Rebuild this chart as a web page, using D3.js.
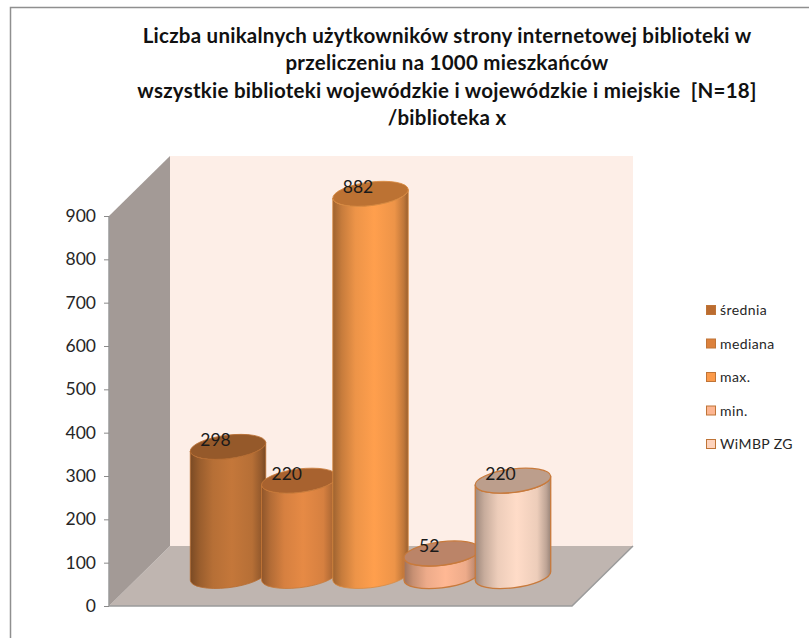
<!DOCTYPE html>
<html><head><meta charset="utf-8">
<script src="https://cdn.jsdelivr.net/npm/d3@7"></script>
<style>html,body{margin:0;padding:0;background:#fff}svg{display:block}</style>
</head><body><div id="c"></div>
<script>
const categories=["średnia","mediana","max.","min.","WiMBP ZG"];
const values=[298,220,882,52,220];
const labels=["298","220","882","52","220"];
const bodyColors=["#c4773a","#e68a45","#ff9f4d","#ffb894","#ffdcc8"];
const topColors=["#95592a","#a8622f","#bc7233","#bb8468","#bc9e8c"];
const legendColors=["#bb6c30","#dc813c","#fb9a4a","#fdb692","#fdd3bd"];
const strokeColors=["#b86c30","#c87a38","#d98a40","#c87a3c","#c87a3c"];
const yTicks=[0,100,200,300,400,500,600,700,800,900];
const titleLines=["Liczba unikalnych użytkowników strony internetowej biblioteki w","przeliczeniu na 1000 mieszkańców","wszystkie biblioteki wojewódzkie i wojewódzkie i miejskie  [N=18]","/biblioteka x"];

const W=809,H=638;
const FONT="Lato";
const svg=d3.select("#c").append("svg").attr("width",W).attr("height",H);
const defs=svg.append("defs");
const y=d3.scaleLinear().domain([0,900]).range([606,216]);
const x=d3.scaleBand().domain(categories).range([192.4,548.6]).padding(0);
const X0=109,X1=572,DX=61,DY=60;

svg.append("path").attr("d",`M10.5,${H}V7.5H${W}`).attr("fill","none").attr("stroke","#8f8f8f").attr("stroke-width",1.5);

// walls
const poly=(pts,fill,stroke)=>svg.append("polygon").attr("points",pts.map(p=>p.join(",")).join(" ")).attr("fill",fill).attr("stroke",stroke||"none");
poly([[X0+DX,y(900)-DY],[X1+DX,y(900)-DY],[X1+DX,y(0)-DY],[X0+DX,y(0)-DY]],"#fdeee7");
poly([[X0,y(0)],[X1,y(0)],[X1+DX,y(0)-DY],[X0+DX,y(0)-DY]],"#bfb5b0");
poly([[X0,y(900)],[X0+DX,y(900)-DY],[X0+DX,y(0)-DY],[X0,y(0)]],"#a39a96");
svg.append("path").attr("d",`M${X0},${y(900)}V${y(0)}H${X1}L${X1+DX},${y(0)-DY}`).attr("fill","none").attr("stroke","#9b9b9b").attr("stroke-width",1.5);

// axis
const axis=d3.axisLeft(y).tickValues(yTicks).tickSize(5).tickPadding(8);
const ag=svg.append("g").attr("transform",`translate(${X0},0)`).call(axis);
ag.select(".domain").remove();
ag.selectAll("line").attr("stroke","#8a8a8a");
ag.selectAll("text").attr("font-family",FONT).attr("font-size",17.5).attr("fill","#262626");

// cylinders
const rx=38,ry=11.7,rot=-7,t=rot*Math.PI/180;
const hx=Math.sqrt(rx*rx*Math.cos(t)**2+ry*ry*Math.sin(t)**2);
const dy=(rx*rx-ry*ry)*Math.sin(-t)*Math.cos(t)/hx;
categories.forEach((c,i)=>{
  const g=defs.append("linearGradient").attr("id","g"+i);
  const col=d3.color(bodyColors[i]);
  const mix=k=>d3.rgb(col.r*k,col.g*k,col.b*k).formatHex();
  [[0,.62],[.12,.78],[.3,.93],[.55,1],[.82,.93],[.94,.75],[1,.6]].forEach(s=>g.append("stop").attr("offset",s[0]).attr("stop-color",mix(s[1])));
});
const bars=svg.append("g").selectAll("g").data(categories).join("g");
bars.each(function(c,i){
  const cx=x(c)+x.bandwidth()/2, yTop=y(values[i])-DY/2, yBot=y(0)-DY/2;
  const s=d3.select(this);
  const lt=[cx-hx,yTop+dy], lb=[cx-hx,yBot+dy], rb=[cx+hx,yBot-dy], rt=[cx+hx,yTop-dy];
  s.append("path").attr("d",`M${lt}L${lb}A${rx},${ry} ${rot} 0 0 ${rb}L${rt}A${rx},${ry} ${rot} 0 1 ${lt}Z`)
    .attr("fill",`url(#g${i})`).attr("stroke",strokeColors[i]).attr("stroke-width",i>2?1.3:.8);
  s.append("ellipse").attr("cx",0).attr("cy",0).attr("rx",rx).attr("ry",ry)
    .attr("transform",`translate(${cx},${yTop}) rotate(${rot})`)
    .attr("fill",topColors[i]).attr("stroke",strokeColors[i]).attr("stroke-width",i>2?1.3:.8);
});
// data labels
svg.append("g").selectAll("text").data(categories).join("text")
  .attr("x",c=>x(c)+x.bandwidth()/2-12.5)
  .attr("y",(c,i)=>y(values[i])-DY/2-1)
  .attr("text-anchor","middle").attr("font-family",FONT).attr("font-size",17.5).attr("fill","#1a1a1a")
  .text((c,i)=>labels[i]);

// legend
const ly=d3.scalePoint().domain(categories).range([310,444]);
const leg=svg.append("g").selectAll("g").data(categories).join("g").attr("transform",c=>`translate(706,${ly(c)})`);
leg.append("rect").attr("x",.5).attr("y",-4.5).attr("width",9).attr("height",9).attr("fill",(c,i)=>legendColors[i]).attr("stroke","#bf7437").attr("stroke-width",1);
leg.append("text").attr("x",14).attr("y",5).attr("font-family",FONT).attr("font-size",14).attr("letter-spacing",.4).attr("fill","#262626").text(c=>c);

// title
svg.append("g").selectAll("text").data(titleLines).join("text")
  .attr("x",447).attr("y",(d,i)=>43+i*27.3).attr("text-anchor","middle").style("white-space","pre")
  .attr("font-family",FONT).attr("font-weight",700).attr("font-size",20.5).attr("letter-spacing",.25).attr("fill","#111").text(d=>d);
</script></body></html>
